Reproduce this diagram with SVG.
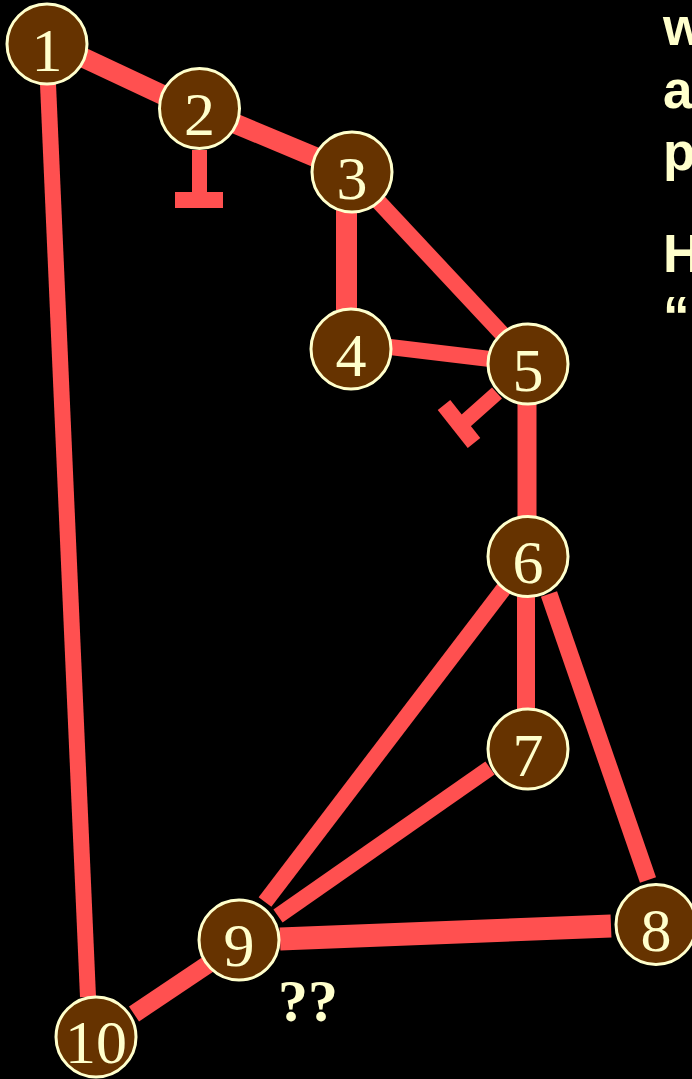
<svg xmlns="http://www.w3.org/2000/svg" width="692" height="1079" viewBox="0 0 692 1079">
<style>
.e{stroke:#FF5050;fill:none;stroke-linecap:butt}
.n circle{fill:#663300;stroke:#FFFFCC;stroke-width:3}
.n text{font-family:"Liberation Serif","Times New Roman",serif;font-size:62px;fill:#FFFFCC;text-anchor:middle}
.t{font-family:"Liberation Sans",Arial,sans-serif;font-weight:bold;font-size:53px;fill:#FFFFCC}
</style>
<rect width="692" height="1079" fill="#000"/>
<g id="connectors">
<line class="e" x1="84" y1="58" x2="165" y2="96" stroke-width="20"/>
<line class="e" x1="236" y1="124" x2="315" y2="157" stroke-width="20"/>
<line class="e" x1="346.5" y1="210" x2="346.5" y2="310" stroke-width="21"/>
<line class="e" x1="377" y1="200" x2="506" y2="338" stroke-width="16"/>
<line class="e" x1="390" y1="347" x2="490" y2="359" stroke-width="16"/>
<line class="e" x1="527" y1="402" x2="527" y2="519" stroke-width="19"/>
<line class="e" x1="526" y1="596" x2="526" y2="709" stroke-width="18"/>
<line class="e" x1="549" y1="594" x2="648" y2="880" stroke-width="17"/>
<line class="e" x1="505" y1="587" x2="265" y2="902" stroke-width="16"/>
<line class="e" x1="490" y1="768" x2="278" y2="916" stroke-width="16"/>
<line class="e" x1="280" y1="939" x2="611" y2="926" stroke-width="23"/>
<line class="e" x1="210" y1="963" x2="134" y2="1014" stroke-width="18"/>
<line class="e" x1="48" y1="84" x2="88" y2="997" stroke-width="16"/>
<g id="inhibit-2">
<line class="e" x1="199.5" y1="150" x2="199.5" y2="194" stroke-width="15"/>
<line class="e" x1="175" y1="200" x2="223" y2="200" stroke-width="16"/>
</g>
<g id="inhibit-5">
<line class="e" x1="497" y1="393" x2="461" y2="425" stroke-width="15"/>
<line class="e" x1="444" y1="405" x2="474" y2="443" stroke-width="16"/>
</g>
</g>
<g id="n1" class="n"><circle cx="47" cy="44" r="40"/><text x="47" y="71">1</text></g>
<g id="n2" class="n"><circle cx="199.5" cy="108.5" r="40"/><text x="199.5" y="135">2</text></g>
<g id="n3" class="n"><circle cx="352" cy="172" r="40"/><text x="352" y="199">3</text></g>
<g id="n4" class="n"><circle cx="351" cy="349" r="40"/><text x="351" y="376">4</text></g>
<g id="n5" class="n"><circle cx="528" cy="364" r="40"/><text x="528" y="391">5</text></g>
<g id="n6" class="n"><circle cx="528" cy="556.5" r="40"/><text x="528" y="583">6</text></g>
<g id="n7" class="n"><circle cx="528" cy="749" r="40"/><text x="528" y="776">7</text></g>
<g id="n8" class="n"><circle cx="656" cy="924.5" r="40"/><text x="656" y="951">8</text></g>
<g id="n9" class="n"><circle cx="239" cy="940" r="40"/><text x="239" y="966">9</text></g>
<g id="n10" class="n"><circle cx="96" cy="1037" r="40"/><text x="96" y="1063">10</text></g>
<text x="278" y="1021" font-family="'Liberation Serif','Times New Roman',serif" font-weight="bold" font-size="60" fill="#FFFFCC">??</text>
<g id="side-text" class="t">
<text x="663" y="45">w</text>
<text x="663" y="108">a</text>
<text x="663" y="170">p</text>
<text x="663" y="272">H</text>
<text x="663" y="334">“</text>
</g>
</svg>
